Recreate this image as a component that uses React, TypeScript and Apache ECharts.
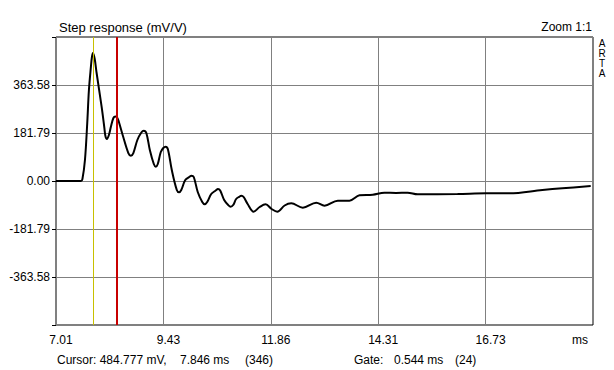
import React, { useEffect, useRef } from "react";
import * as echarts from "echarts";

// Step response samples (time in ms, value in mV/V)
const STEP_T = [
  7.01, 7.575, 7.608, 7.665, 7.717, 7.755, 7.8, 7.823, 7.846, 7.886, 7.929, 8.042, 8.105,
  8.128, 8.162, 8.207, 8.252, 8.309, 8.354, 8.399, 8.433, 8.53, 8.647, 8.704, 8.76,
  8.851, 8.941, 8.997, 9.054, 9.133, 9.223, 9.268, 9.313, 9.381, 9.438, 9.488, 9.54,
  9.63, 9.743, 9.795, 9.844, 9.935, 10.025, 10.075, 10.127, 10.217, 10.319, 10.375,
  10.431, 10.522, 10.623, 10.675, 10.725, 10.815, 10.906, 10.962, 11.019, 11.086,
  11.154, 11.204, 11.256, 11.346, 11.482, 11.617, 11.753, 11.888, 12.017, 12.182,
  12.333, 12.595, 12.898, 13.085, 13.386, 13.65, 13.876, 14.176, 14.44, 14.704,
  14.966, 15.192, 16.096, 16.737, 17.263, 18.015, 18.467, 19.108,
];
const STEP_MV = [
  0, 0, 7.6, 79.5, 219.7, 344.6, 432.9, 469.6, 484.8, 462.0, 409.0, 281.4, 200.7,
  170.4, 159.1, 174.2, 205.6, 238.6, 244.3, 238.6, 223.4, 167.8, 106.0, 95.8, 106.0,
  155.3, 183.7, 190.5, 181.8, 117.4, 64.4, 54.2, 64.4, 109.8, 125.0, 129.9, 121.2,
  41.7, -34.0, -42.8, -34.0, 3.8, 15.1, 20.1, 15.1, -41.7, -79.5, -88.2,
  -79.5, -49.2, -36.0, -30.3, -36.0, -72.0, -90.9, -97.3, -90.9, -68.2,
  -59.8, -55.7, -60.6, -87.1, -116.3, -98.5, -88.2, -106.0, -116.3, -92.8,
  -84.5, -101.1, -82.2, -93.5, -74.6, -74.6, -54.2, -51.9, -44.3, -45.4,
  -44.3, -50.4, -49.2, -46.6, -46.6, -34.1, -27.6, -18.9,
];

const X_START = 7.01; // ms at left edge
const X_STEP = 2.43; // ms per division
const X_DIVS = 5;
const X_TICK_LABELS = ["7.01", "9.43", "11.86", "14.31", "16.73"];
const X_UNIT = "ms";

const Y_STEP = 181.79;
const Y_DIVS_HALF = 3;
const Y_TICK_LABELS = ["363.58", "181.79", "0.00", "-181.79", "-363.58"];

const CURSOR_T = 7.846;
const GATE_END_T = 8.39;

const TITLE = "Step response (mV/V)";
const ZOOM_TEXT = "Zoom 1:1";
const BRAND_LETTERS = ["A", "R", "T", "A"];
const CURSOR_PARTS = ["Cursor: 484.777 mV,", "7.846 ms", "(346)"];
const GATE_PARTS = ["Gate:", "0.544 ms", "(24)"];

const FONT = "'Liberation Sans', Arial, sans-serif";

export default function App() {
  const ref = useRef<HTMLDivElement>(null);

  useEffect(() => {
    if (!ref.current) return;
    const chart = echarts.init(ref.current, null, { renderer: "svg" });
    const yMax = Y_STEP * Y_DIVS_HALF;
    const xMax = X_STEP * X_DIVS;
    const curve = STEP_T.map((t, i) => [t - X_START, STEP_MV[i]]);

    const txt = (text: string, x: number, y: number, extra: any = {}) => ({
      type: "text",
      x,
      y,
      silent: true,
      style: {
        text,
        fill: "#000",
        font: `12px ${FONT}`,
        verticalAlign: "middle",
        ...extra,
      },
    });

    chart.setOption({
      animation: false,
      backgroundColor: "#fff",
      grid: {
        left: 56,
        top: 37,
        width: 537,
        height: 288,
        show: true,
        borderColor: "#000",
        borderWidth: 1,
        backgroundColor: "transparent",
        containLabel: false,
      },
      xAxis: {
        type: "value",
        min: 0,
        max: xMax,
        interval: X_STEP,
        axisLine: { show: false },
        axisTick: { show: false },
        splitLine: { show: true, lineStyle: { color: "#808080", width: 1 } },
        axisLabel: {
          margin: 9,
          color: "#000",
          fontSize: 12,
          fontFamily: FONT,
          padding: [0, 0, 0, 10],
          formatter: (v: number) => {
            const k = Math.round(v / X_STEP);
            return X_TICK_LABELS[k] ?? "";
          },
        },
      },
      yAxis: {
        type: "value",
        min: -yMax,
        max: yMax,
        interval: Y_STEP,
        axisLine: { show: false },
        axisTick: { show: true, length: 4, lineStyle: { color: "#000" } },
        splitLine: { show: true, lineStyle: { color: "#808080", width: 1 } },
        axisLabel: {
          margin: 6,
          color: "#000",
          fontSize: 12,
          fontFamily: FONT,
          formatter: (v: number) => {
            const k = Math.round(v / Y_STEP);
            if (Math.abs(k) >= Y_DIVS_HALF) return "";
            return Y_TICK_LABELS[Y_DIVS_HALF - 1 - k] ?? "";
          },
        },
      },
      series: [
        {
          type: "line",
          data: [],
          z: 2,
          silent: true,
          markLine: {
            silent: true,
            symbol: "none",
            label: { show: false },
            animation: false,
            data: [
              { xAxis: CURSOR_T - X_START, lineStyle: { color: "#c8c000", width: 1, type: "solid" } },
              { xAxis: GATE_END_T - X_START, lineStyle: { color: "#c80000", width: 2, type: "solid" } },
            ],
          },
        },
        {
          type: "line",
          data: curve,
          z: 3,
          smooth: 0.35,
          showSymbol: false,
          silent: true,
          lineStyle: { color: "#000", width: 2 },
        },
      ],
      graphic: [
        txt(TITLE, 59, 27, { font: `13px ${FONT}` }),
        txt(ZOOM_TEXT, 592, 27, { align: "right" }),
        ...BRAND_LETTERS.map((l, i) =>
          txt(l, 602, 43.5 + i * 10, { font: `10px ${FONT}`, align: "center" })
        ),
        txt(X_UNIT, 580, 340, { align: "center" }),
        txt(CURSOR_PARTS[0], 57, 360),
        txt(CURSOR_PARTS[1], 180, 360),
        txt(CURSOR_PARTS[2], 245, 360),
        txt(GATE_PARTS[0], 354, 360),
        txt(GATE_PARTS[1], 394, 360),
        txt(GATE_PARTS[2], 455, 360),
      ],
    });
    return () => chart.dispose();
  }, []);

  return (
    <div
      ref={ref}
      style={{ position: "fixed", left: 0, top: 0, width: 614, height: 370, background: "#fff" }}
    />
  );
}
